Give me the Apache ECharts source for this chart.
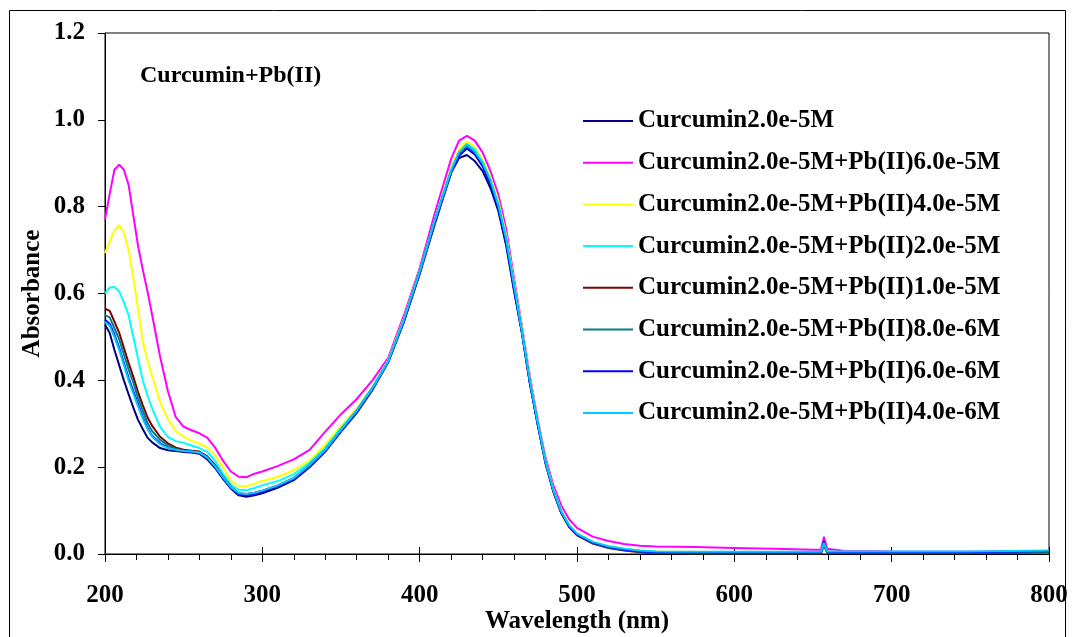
<!DOCTYPE html>
<html>
<head>
<meta charset="utf-8">
<script src="https://cdn.jsdelivr.net/npm/echarts@6/dist/echarts.min.js"></script>
<style>
html,body{margin:0;padding:0;background:#fff;}
#chart{width:1074px;height:637px;}
</style>
</head>
<body>
<div id="chart"></div>
<script>
// Wavelength grid (nm)
var wavelengths = [200,203,206,209,212,215,218,221,224,227,230,
  235,240,245,250,255,260,265,270,275,280,285,290,295,300,
  310,320,330,340,350,360,370,380,390,400,410,
  420,425,430,435,440,445,450,455,460,465,470,475,480,485,490,495,500,
  510,520,530,540,550,
  575,600,625,650,
  655,657,659,
  670,700,750,800];

var seriesNames = [
  'Curcumin2.0e-5M',
  'Curcumin2.0e-5M+Pb(II)6.0e-5M',
  'Curcumin2.0e-5M+Pb(II)4.0e-5M',
  'Curcumin2.0e-5M+Pb(II)2.0e-5M',
  'Curcumin2.0e-5M+Pb(II)1.0e-5M',
  'Curcumin2.0e-5M+Pb(II)8.0e-6M',
  'Curcumin2.0e-5M+Pb(II)6.0e-6M',
  'Curcumin2.0e-5M+Pb(II)4.0e-6M'
];

var curcumin = [.528,.509,.47,.435,.40,.368,.337,.309,.288,.268,.257,
  .244,.239,.237,.235,.234,.231,.218,.198,.173,.151,.135,.132,.135,.14,
  .153,.17,.2,.236,.282,.325,.378,.443,.535,.645,.764,
  .878,.912,.919,.905,.882,.843,.79,.71,.605,.51,.395,.30,.213,.145,.095,.064,.045,
  .025,.016,.01,.006,.004,
  .003,.003,.003,.002,
  .003,.025,.006,
  .004,.004,.004,.006];

var pb6e5 = [.77,.83,.885,.897,.885,.85,.78,.71,.655,.605,.55,
  .455,.375,.315,.293,.285,.278,.268,.245,.215,.19,.178,.177,.185,.19,
  .203,.218,.24,.282,.322,.357,.40,.452,.55,.658,.79,
  .91,.952,.963,.952,.925,.882,.828,.748,.635,.525,.41,.31,.222,.158,.112,.08,.06,
  .04,.03,.023,.019,.017,
  .016,.014,.012,.01,
  .01,.04,.012,
  .007,.006,.005,.007];

var pb4e5 = [.693,.72,.745,.758,.74,.70,.635,.565,.49,.445,.41,
  .35,.31,.283,.27,.261,.254,.245,.228,.20,.168,.156,.156,.162,.168,
  .178,.193,.215,.252,.295,.335,.385,.447,.543,.652,.775,
  .89,.932,.95,.937,.908,.868,.813,.735,.625,.52,.405,.305,.216,.15,.1,.068,.048,
  .028,.018,.012,.008,.006,
  .005,.004,.004,.004,
  .004,.03,.006,
  .004,.004,.004,.006];

var pb2e5 = [.60,.614,.615,.605,.58,.55,.50,.45,.40,.365,.335,
  .293,.27,.26,.256,.25,.244,.235,.215,.185,.16,.148,.147,.152,.158,
  .168,.184,.21,.245,.29,.332,.384,.445,.54,.652,.775,
  .885,.925,.945,.932,.902,.862,.806,.728,.62,.515,.4,.303,.212,.147,.098,.066,.046,
  .027,.017,.011,.007,.005,
  .004,.003,.003,.003,
  .003,.028,.005,
  .004,.004,.004,.006];

var pb1e5 = [.565,.56,.535,.51,.475,.44,.408,.373,.343,.315,.295,
  .27,.255,.245,.24,.238,.236,.225,.205,.178,.155,.14,.138,.141,.146,
  .158,.175,.205,.24,.286,.33,.382,.443,.538,.65,.772,
  .882,.922,.94,.925,.897,.857,.8,.722,.615,.51,.395,.298,.208,.143,.094,.062,.043,
  .024,.014,.008,.004,.002,
  .001,.001,.001,.001,
  .001,.02,.003,
  .002,.002,.002,.004];

var pb8e6 = [.55,.545,.52,.495,.46,.425,.395,.36,.33,.302,.283,
  .263,.25,.242,.238,.236,.234,.222,.202,.176,.153,.138,.136,.139,.144,
  .157,.174,.203,.239,.285,.328,.38,.442,.537,.648,.771,
  .88,.92,.938,.923,.895,.855,.798,.72,.613,.51,.396,.299,.21,.144,.095,.063,.044,
  .025,.015,.009,.005,.003,
  .002,.002,.002,.002,
  .002,.022,.004,
  .003,.003,.003,.005];

var pb6e6 = [.54,.53,.505,.475,.44,.405,.375,.345,.315,.29,.272,
  .255,.245,.24,.237,.235,.233,.22,.2,.175,.152,.137,.135,.138,.143,
  .156,.173,.202,.238,.284,.327,.379,.442,.536,.647,.77,
  .879,.917,.934,.92,.893,.853,.796,.718,.61,.51,.396,.3,.211,.145,.096,.064,.045,
  .026,.016,.01,.006,.004,
  .003,.003,.003,.003,
  .003,.03,.005,
  .004,.004,.004,.007];

var pb4e6 = [.535,.525,.50,.47,.435,.40,.37,.34,.312,.288,.27,
  .253,.244,.24,.237,.236,.234,.222,.202,.177,.154,.14,.138,.141,.146,
  .158,.175,.205,.24,.286,.33,.382,.444,.54,.65,.773,
  .883,.925,.943,.928,.9,.86,.803,.725,.618,.513,.4,.303,.213,.147,.098,.066,.047,
  .028,.018,.012,.008,.006,
  .005,.005,.005,.005,
  .005,.025,.006,
  .006,.006,.006,.008];

var seriesValues = [curcumin, pb6e5, pb4e5, pb2e5, pb1e5, pb8e6, pb6e6, pb4e6];
var seriesColors = ['#000080','#FF00FF','#FFFF00','#00FFFF','#800000','#008080','#0000FF','#00CCFF'];

var FONT = '"Liberation Serif","Times New Roman",serif';

var chart = echarts.init(document.getElementById('chart'), null, {renderer:'canvas'});

var series = seriesNames.map(function(name, i){
  return {
    name: name,
    type: 'line',
    xAxisIndex: 0,
    yAxisIndex: 0,
    symbol: 'none',
    color: seriesColors[i],
    itemStyle: {color: seriesColors[i]},
    lineStyle: {width: 2, color: seriesColors[i]},
    data: wavelengths.map(function(w, k){ return [w, seriesValues[i][k]]; })
  };
});

var option = {
  animation: false,
  backgroundColor: '#fff',
  title: {
    text: 'Curcumin+Pb(II)',
    left: 140, top: 64, padding: 0,
    textStyle: {fontFamily: FONT, fontWeight: 'bold', fontSize: 24, color: '#000'}
  },
  legend: {
    orient: 'vertical',
    left: 583, top: 106, padding: 0,
    icon: 'rect',
    itemWidth: 50, itemHeight: 2, itemGap: 11.7,
    data: seriesNames,
    textStyle: {fontFamily: FONT, fontWeight: 'bold', fontSize: 25, color: '#000', lineHeight: 30}
  },
  grid: {left: 105, top: 33, right: 25, bottom: 83, show: true, borderColor: '#000', borderWidth: 1,
    backgroundColor: 'transparent', containLabel: false, outerBoundsMode: 'none'},
  xAxis: [{
    type: 'value', min: 200, max: 800, interval: 100, position: 'bottom',
    axisLine: {show: true, lineStyle: {color: '#000', width: 1}},
    axisTick: {show: true, length: 8, lineStyle: {color: '#000', width: 1}},
    minorTick: {show: true, splitNumber: 5, length: 6, lineStyle: {color: '#000', width: 1}},
    splitLine: {show: false},
    axisLabel: {margin: 29, fontFamily: FONT, fontWeight: 'bold', fontSize: 25, color: '#000'},
    name: 'Wavelength (nm)', nameLocation: 'middle', nameGap: 55, nameMoveOverlap: false,
    nameTextStyle: {fontFamily: FONT, fontWeight: 'bold', fontSize: 25, color: '#000'}
  }, {
    type: 'value', min: 200, max: 800, interval: 100, position: 'bottom',
    axisLine: {show: false},
    axisTick: {show: true, inside: true, length: 7, lineStyle: {color: '#000', width: 1}},
    axisLabel: {show: false},
    splitLine: {show: false}
  }],
  yAxis: {
    type: 'value', min: 0, max: 1.2, interval: 0.2,
    axisLine: {show: true, lineStyle: {color: '#000', width: 1}},
    axisTick: {show: true, length: 7, lineStyle: {color: '#000', width: 1}},
    splitLine: {show: false},
    axisLabel: {margin: 20, fontFamily: FONT, fontWeight: 'bold', fontSize: 25, color: '#000',
      formatter: function(v){ return v.toFixed(1); }},
    name: 'Absorbance', nameLocation: 'middle', nameGap: 60, nameRotate: 90, nameMoveOverlap: false,
    nameTextStyle: {fontFamily: FONT, fontWeight: 'bold', fontSize: 25, color: '#000'}
  },
  graphic: [{
    type: 'rect', silent: true,
    shape: {x: 9.5, y: 10.5, width: 1056, height: 700},
    style: {fill: 'none', stroke: '#000', lineWidth: 1}
  }],
  series: series
};
chart.setOption(option);
</script>
</body>
</html>
